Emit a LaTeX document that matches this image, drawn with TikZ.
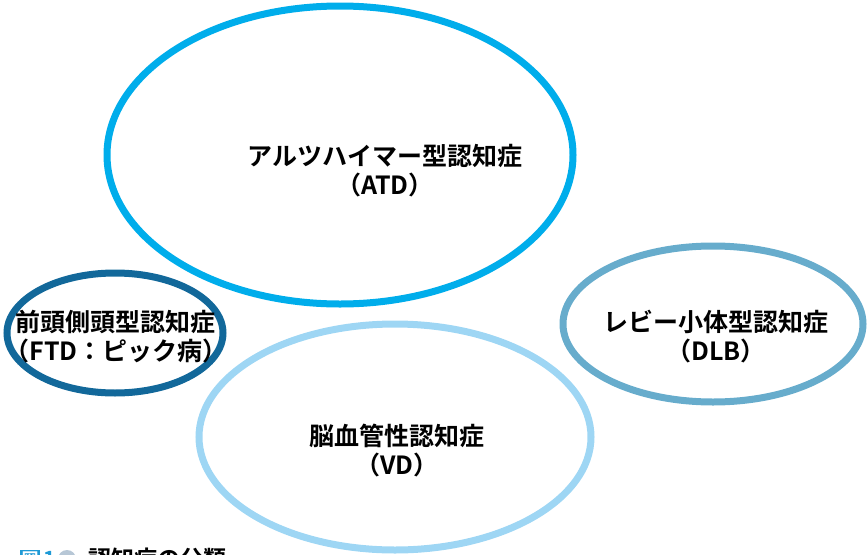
\documentclass[tikz,border=0pt]{standalone}
\usepackage{fontspec}
\setmainfont{Noto Sans CJK JP}[BoldFont={* Bold}]
\newfontfamily\jpb{Noto Sans CJK JP Bold}
\definecolor{atdc}{HTML}{00ADEB}
\definecolor{ftdc}{HTML}{12689A}
\definecolor{dlbc}{HTML}{67ACCC}
\definecolor{vdc}{HTML}{9ED6F4}
\definecolor{capbox}{HTML}{1E9AD6}
\definecolor{capdot}{HTML}{B7C7D6}
\begin{document}
\begin{tikzpicture}[x=1pt,y=-1pt,
  ring/.style={line width=7pt},
  lbl/.style={align=center,font=\jpb\fontsize{25}{29}\selectfont,text=black,inner sep=0pt}]
\useasboundingbox (0,0) rectangle (867,554);
\clip (0,0) rectangle (867,554);
\draw[ring,atdc] (340,155) ellipse [x radius=233, y radius=149];
\draw[ring,vdc] (395,437) ellipse [x radius=196, y radius=113];
\draw[ring,ftdc] (115,333) ellipse [x radius=108, y radius=60];
\draw[ring,dlbc] (713,324) ellipse [x radius=150, y radius=78];
\node[lbl] (atd) at (385,171) {アルツハイマー型認知症\\（ATD）};
\node[lbl] (ftd) at (116,337) {前頭側頭型認知症\\（FTD：ピック病）};
\node[lbl] (dlb) at (716,337) {レビー小体型認知症\\（DLB）};
\node[lbl] (vd) at (397,451) {脳血管性認知症\\（VD）};
% caption (cut off at bottom, as in the reference)
\node[fill=capbox,text=white,inner sep=1.5pt,font=\jpb\fontsize{17}{17}\selectfont,anchor=west] (capfig) at (20,559) {図};
\node[text=capbox,inner sep=0pt,font=\jpb\fontsize{21}{21}\selectfont,anchor=west] (capnum) at (43,559) {1};
\node[fill=capdot,circle,minimum size=18pt,inner sep=0pt] (capdot) at (67,559) {};
\node[inner sep=0pt,font=\jpb\fontsize{23}{23}\selectfont,anchor=west,text=black] (captxt) at (88,559) {認知症の分類};
\end{tikzpicture}
\end{document}
